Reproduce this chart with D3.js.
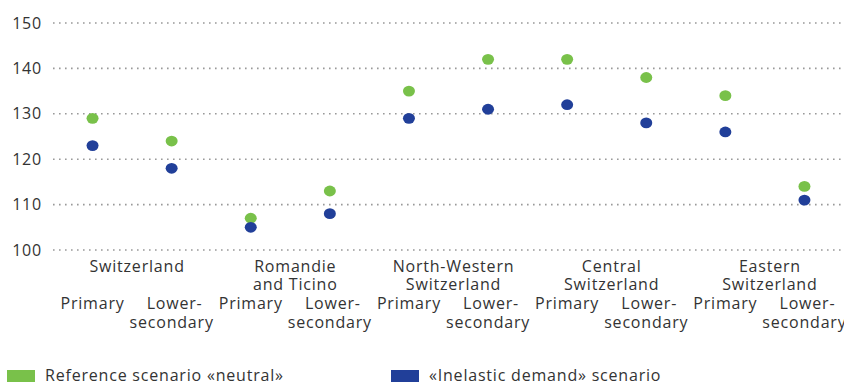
<!DOCTYPE html>
<html lang='en'>
<head>
<meta charset='utf-8'>
<script src='https://cdn.jsdelivr.net/npm/d3@7'></script>
<style>
  body { margin: 0; background: #fff; }
  text { font-family: 'Open Sans', sans-serif; fill: #333; letter-spacing: 0.8px; }
</style>
</head>
<body>
<script>
var regions = [['Switzerland'], ['Romandie', 'and Ticino'], ['North-Western', 'Switzerland'], ['Central', 'Switzerland'], ['Eastern', 'Switzerland']];
var levels = ['Primary', 'Lower-secondary'];
var neutral = [129, 124, 107, 113, 135, 142, 142, 138, 134, 114];
var inelastic = [123, 118, 105, 108, 129, 131, 132, 128, 126, 111];
var yTicks = [100, 110, 120, 130, 140, 150];
var seriesNames = ['Reference scenario «neutral»', '«Inelastic demand» scenario'];
var colors = ['#79c14a', '#213f99'];

var width = 844, height = 382;
var svg = d3.select('body').append('svg').attr('width', width).attr('height', height);

var keys = [];
regions.forEach(function(r, i) { levels.forEach(function(l) { keys.push(i + '|' + l); }); });

var x = d3.scaleBand().domain(keys).range([53, 844]);
var y = d3.scaleLinear().domain([100, 150]).range([250, 23]);

// gridlines
svg.append('g').selectAll('line').data(yTicks).enter().append('line')
  .attr('x1', 53).attr('x2', 844)
  .attr('y1', d => y(d)).attr('y2', d => y(d))
  .attr('stroke', '#999').attr('stroke-width', 1.6)
  .attr('stroke-dasharray', '1.6,4.4');

svg.append('g').selectAll('text').data(yTicks).enter().append('text')
  .attr('x', 42).attr('y', d => y(d) + 5.5)
  .attr('text-anchor', 'end').attr('font-size', '16px')
  .text(d => d);

// dots
[neutral, inelastic].forEach(function(vals, s) {
  svg.append('g').selectAll('ellipse').data(vals).enter().append('ellipse')
    .attr('cx', (d, i) => x(keys[i]) + x.bandwidth() / 2)
    .attr('cy', d => y(d))
    .attr('rx', 6).attr('ry', 5.4)
    .attr('fill', colors[s]);
});

// region labels
var rl = svg.append('g');
regions.forEach(function(lines, i) {
  var cx = (x(keys[2 * i]) + x(keys[2 * i + 1]) + x.bandwidth()) / 2 + 5;
  var t = rl.append('text').attr('text-anchor', 'middle').attr('font-size', '16px');
  lines.forEach(function(line, j) {
    t.append('tspan').attr('x', cx).attr('y', 272 + j * 18).text(line);
  });
});

// level labels
var ll = svg.append('g');
keys.forEach(function(k, i) {
  var cx = x(k) + x.bandwidth() / 2;
  var t = ll.append('text').attr('text-anchor', 'middle').attr('font-size', '16px');
  if (i % 2 === 0) {
    t.append('tspan').attr('x', cx).attr('y', 309).text('Primary');
  } else {
    t.append('tspan').attr('x', cx + 3).attr('y', 309).text('Lower-');
    t.append('tspan').attr('x', cx).attr('y', 328).text('secondary');
  }
});

// legend
var legX = [7, 391];
seriesNames.forEach(function(n, s) {
  var g = svg.append('g').attr('transform', 'translate(' + legX[s] + ',0)');
  g.append('rect').attr('x', 0).attr('y', 370).attr('width', 28).attr('height', 12).attr('fill', colors[s]);
  g.append('text').attr('x', 38).attr('y', 381).attr('font-size', '16px').text(n);
});
</script>
</body>
</html>
